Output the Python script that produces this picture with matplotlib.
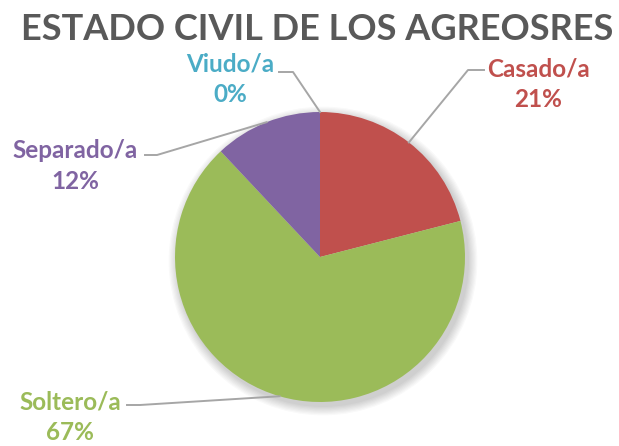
import matplotlib.pyplot as plt
import numpy as np
from matplotlib.patches import Circle

# Datos
categorias = ["Casado/a", "Soltero/a", "Separado/a", "Viudo/a"]
porcentajes = [21, 67, 12, 0]
colores = ["#C0504D", "#9BBB59", "#8064A2", "#4BACC6"]

W, H = 619, 446
fig = plt.figure(figsize=(W / 100, H / 100), dpi=100)
ax = fig.add_axes([0, 0, 1, 1])

cx, cy, r = 320, H - 257, 145

# Sombra suave
for k in range(8):
    ax.add_patch(Circle((cx + 3, cy - 4), r + 1 + k * 1.2, color="black",
                        alpha=0.025, lw=0, zorder=0))

wedges, _ = ax.pie(porcentajes, colors=colores, startangle=90, counterclock=False,
                   center=(cx, cy), radius=r, frame=True,
                   wedgeprops=dict(linewidth=0))
ax.set_xlim(0, W)
ax.set_ylim(0, H)
ax.set_aspect("equal")
ax.axis("off")

# Posiciones de etiquetas (centro del texto, codo y extremo de la línea)
etiquetas = {
    "Casado/a": dict(texto=(538, 84), codo=(468, 70), fin=(484, 70)),
    "Soltero/a": dict(texto=(70, 417), codo=(140, 405), fin=(127, 405)),
    "Separado/a": dict(texto=(75, 166), codo=(157, 155), fin=(145, 155)),
    "Viudo/a": dict(texto=(230, 79), codo=(293, 72), fin=(279, 72)),
}

inicio = 90.0
for cat, pct, col in zip(categorias, porcentajes, colores):
    ang = np.deg2rad(inicio - pct * 3.6 / 2)
    inicio -= pct * 3.6
    px, py = cx + r * np.cos(ang), cy + r * np.sin(ang)
    e = etiquetas[cat]
    xs = [px, e["codo"][0], e["fin"][0]]
    ys = [py, H - e["codo"][1], H - e["fin"][1]]
    ax.plot(xs, ys, color="#A6A6A6", lw=1.4, zorder=3)
    ax.text(e["texto"][0], H - e["texto"][1], f"{cat}\n{pct}%", color=col,
            ha="center", va="center", fontsize=17.5, fontweight="bold",
            family="Lato", linespacing=1.4)

ax.text(317, H - 29, "ESTADO CIVIL DE LOS AGREOSRES", ha="center", va="center",
        fontsize=26, fontweight="bold", color="#595959", family="Lato")

fig.savefig("out.png", dpi=100)
